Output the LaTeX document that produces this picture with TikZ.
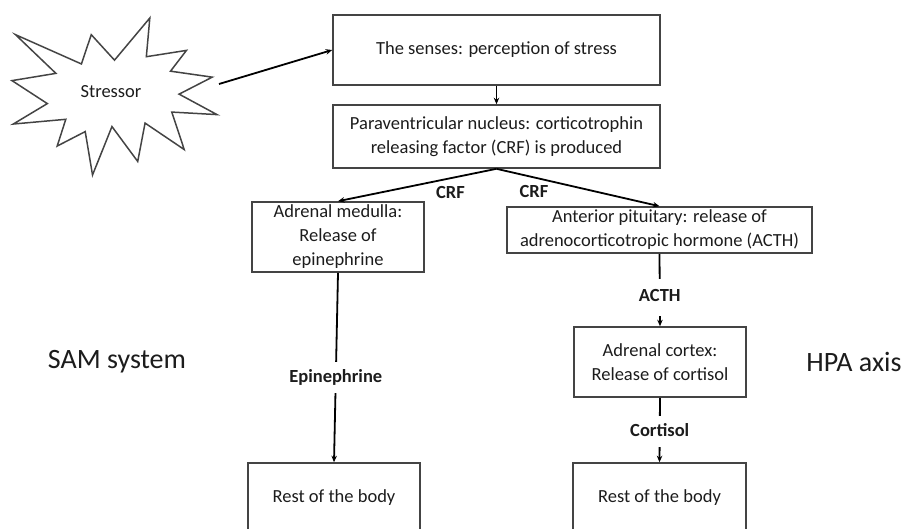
\documentclass[tikz,border=0pt]{standalone}
\usepackage{fontspec}
\setmainfont{Carlito}
\usepackage{tikz}
\usetikzlibrary{arrows.meta,calc}
\newcommand{\basefont}{\fontsize{18.5}{24}\selectfont}
\newcommand{\bigfont}{\fontsize{28}{32}\selectfont}
\definecolor{inkgray}{HTML}{1C1C1C}
\definecolor{boxgray}{HTML}{444444}
\tikzstyle{arrow} = [-{Stealth[length=6.5pt,width=5.5pt]}, line width=1.8pt, black]
\tikzstyle{box} = [rectangle, draw=boxgray, line width=1.6pt, text=inkgray, font=\basefont, align=center, inner sep=0pt]
\tikzstyle{lbl} = [font=\basefont\bfseries, text=inkgray, inner xsep=2pt]
\tikzstyle{gap} = [lbl, fill=white, text height=13pt, text depth=4pt, inner ysep=7pt]

\begin{document}
\begin{tikzpicture}[x=1pt, y=-1pt]
    \useasboundingbox (0,0) rectangle (909,528);
    \clip (0,0) rectangle (909,528);

    % Stressor burst
    \begin{scope}[shift={(12pt,-18pt)}, x=0.94907pt, y=-0.72685pt]
        \draw[boxgray, line width=1.5pt, line join=miter]
            (108.00,58.00) -- (145.22,0) -- (141.55,53.25) -- (183.80,44.57) -- (167.02,73.15)
            -- (210.97,81.37) -- (176.07,104.75) -- (216.00,132.90) -- (168.37,129.42)
            -- (181.45,180.95) -- (140.20,144.57) -- (132.47,197.37) -- (105.32,149.35)
            -- (84.85,216.00) -- (77.15,156.27) -- (47.62,176.17) -- (56.67,139.37)
            -- (1.35,145.87) -- (37.22,117.75) -- (0,86.15) -- (46.27,76.17)
            -- (3.70,22.95) -- (73.12,63.20) -- (83.52,22.95) -- cycle;
    \end{scope}
    \node[font=\basefont, text=inkgray] (stressor) at (111,92) {Stressor};
    \coordinate (burst) at (219,84);

    % Brain
    \node[box, minimum width=327pt, minimum height=70pt] (senses) at (496.5,50) {The senses: perception of stress};
    \node[box, minimum width=327pt, minimum height=63pt] (pvn) at (496.5,136.5) {Paraventricular nucleus: corticotrophin\\ releasing factor (CRF) is produced};

    % SAM side
    \node[box, minimum width=172pt, minimum height=70pt] (medulla) at (338,237) {Adrenal medulla:\\ Release of\\ epinephrine};
    \node[box, minimum width=172pt, minimum height=70pt] (bodyL) at (334,498) {Rest of the body};

    % HPA side
    \node[box, minimum width=305pt, minimum height=46pt] (pituitary) at (659.5,230) {Anterior pituitary: release of\\ adrenocorticotropic hormone (ACTH)};
    \node[box, minimum width=172pt, minimum height=70pt] (cortex) at (660,362) {Adrenal cortex:\\ Release of cortisol};
    \node[box, minimum width=173pt, minimum height=70pt] (bodyR) at (659.5,498) {Rest of the body};

    % System names
    \node[font=\bigfont, text=inkgray] (sam) at (117,362) {SAM system};
    \node[font=\bigfont, text=inkgray] (hpa) at (854,362) {HPA axis};

    % Arrows
    \draw[arrow] (burst) -- (senses.west);
    \draw[arrow] (senses) -- (pvn);
    \draw[arrow] (pvn.south) -- node[lbl, pos=0.29, below=4pt] {CRF} (medulla.north);
    \draw[arrow] (pvn.south) -- node[lbl, pos=0.23, below=4pt] {CRF} (pituitary.north);
    \draw[arrow] (medulla.south) -- node[gap, pos=0.555] {Epinephrine} (bodyL.north);
    \draw[arrow] (pituitary.south) -- node[gap, pos=0.6, inner ysep=10pt] {ACTH} (cortex.north);
    \draw[arrow] (cortex.south) -- node[gap, pos=0.53] {Cortisol} (bodyR.north);
\end{tikzpicture}
\end{document}
